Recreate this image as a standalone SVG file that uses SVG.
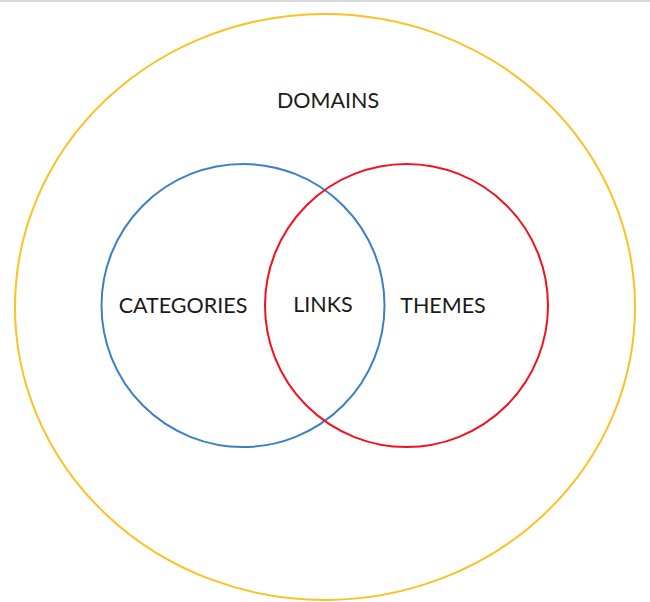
<svg xmlns="http://www.w3.org/2000/svg" width="650" height="602" viewBox="0 0 650 602">
<style>
.lbl{font-family:Lato,"Noto Sans","DejaVu Sans",sans-serif;font-size:21.5px;fill:#1a1a1a;text-anchor:middle}
.ring{fill:none;stroke-width:2}
</style>
<rect x="0" y="0" width="650" height="602" fill="#ffffff"/>
<rect x="0" y="0" width="650" height="2" fill="#d9d9d9"/>
<g id="domains">
<ellipse class="ring" cx="325" cy="307" rx="310" ry="293" stroke="#fcc124"/>
<text class="lbl" x="328" y="107.5">DOMAINS</text>
</g>
<g id="categories">
<circle class="ring" cx="243" cy="305.5" r="141.5" stroke="#3d7fc6"/>
<text class="lbl" x="183" y="312.5">CATEGORIES</text>
</g>
<g id="themes">
<circle class="ring" cx="406.5" cy="305.5" r="141.5" stroke="#f5101e"/>
<text class="lbl" x="443" y="312.5">THEMES</text>
</g>
<g id="links">
<text class="lbl" x="323" y="311.5">LINKS</text>
</g>
<g id="connectors"></g>
</svg>
